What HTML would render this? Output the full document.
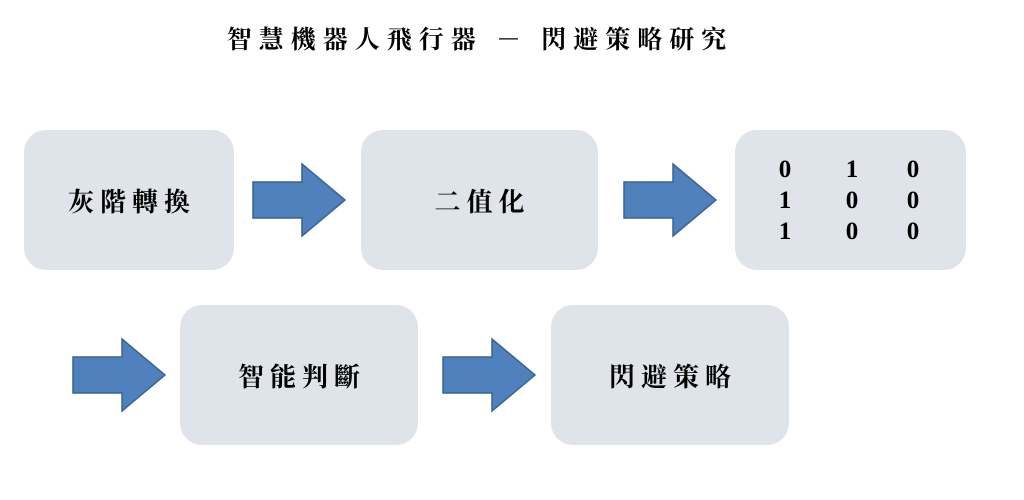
<!DOCTYPE html>
<html><head><meta charset="utf-8"><style>
body{margin:0;width:1024px;height:500px;background:#fff;position:relative;overflow:hidden;font-family:"Liberation Serif","Noto Serif CJK SC",serif;}
.b{position:absolute;background:#dfe3ea;border-radius:22px;display:flex;align-items:center;justify-content:center;font-size:26px;font-weight:bold;color:#000;letter-spacing:6px;text-indent:6px}
.t{position:absolute;width:1024px;text-align:center;top:20px;font-size:25px;font-weight:bold;letter-spacing:7px}
.n{position:absolute;font-size:25px;font-weight:bold;transform:translate(-50%,-50%)}
svg{position:absolute;left:0;top:0}
</style></head><body>
<div class="t" style="left:-32px">智慧機器人飛行器 － 閃避策略研究</div>
<div class="b" style="left:24px;top:130px;width:210px;height:140px">灰階轉換</div>
<div class="b" style="left:361px;top:130px;width:237px;height:140px">二值化</div>
<div class="b" style="left:735px;top:130px;width:231px;height:140px"></div>
<div class="b" style="left:180px;top:305px;width:238px;height:140px">智能判斷</div>
<div class="b" style="left:551px;top:305px;width:238px;height:140px">閃避策略</div>
<div class="n" style="left:785px;top:170px">0</div><div class="n" style="left:852px;top:170px">1</div><div class="n" style="left:913px;top:170px">0</div>
<div class="n" style="left:785px;top:201px">1</div><div class="n" style="left:852px;top:201px">0</div><div class="n" style="left:913px;top:201px">0</div>
<div class="n" style="left:785px;top:232px">1</div><div class="n" style="left:852px;top:232px">0</div><div class="n" style="left:913px;top:232px">0</div>
<svg width="1024" height="500">
<g fill="#4f81bd" stroke="#3a6391" stroke-width="1.5">
<polygon points="253,182 302,182 302,164 345,200 302,236 302,218 253,218"/>
<polygon points="624,182 673,182 673,164 716,200 673,236 673,218 624,218"/>
<polygon points="73,357 122,357 122,339 165,375 122,411 122,393 73,393"/>
<polygon points="443,357 492,357 492,339 535,375 492,411 492,393 443,393"/>
</g></svg>
</body></html>
